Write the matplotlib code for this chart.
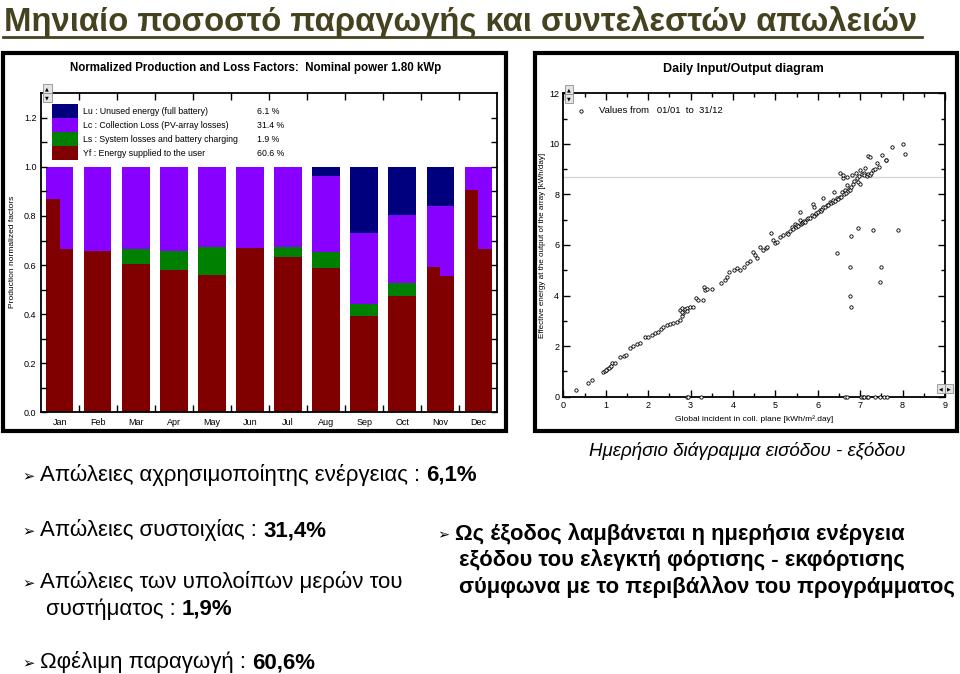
import matplotlib
matplotlib.use('Agg')
import matplotlib.pyplot as plt
from matplotlib import font_manager
from matplotlib.patches import Rectangle
import numpy as np

# ---------------- data ----------------
months = ['Jan', 'Feb', 'Mar', 'Apr', 'May', 'Jun', 'Jul', 'Aug', 'Sep', 'Oct', 'Nov', 'Dec']
yf = [0.665, 0.657, 0.603, 0.578, 0.561, 0.668, 0.634, 0.589, 0.391, 0.475, 0.555, 0.664]
yf_left = [0.868, 0.657, 0.603, 0.578, 0.561, 0.668, 0.634, 0.589, 0.391, 0.475, 0.593, 0.905]
ls = [0.0, 0.002, 0.062, 0.081, 0.112, 0.002, 0.038, 0.065, 0.052, 0.053, 0.0, 0.0]
lc = [0.335, 0.341, 0.335, 0.341, 0.327, 0.330, 0.328, 0.309, 0.287, 0.277, 0.285, 0.336]
lu = [0.0, 0.0, 0.0, 0.0, 0.0, 0.0, 0.0, 0.037, 0.270, 0.195, 0.160, 0.0]
legend_labels = ['Lu : Unused energy (full battery)', 'Lc : Collection Loss (PV-array losses)',
                 'Ls : System losses and battery charging', 'Yf : Energy supplied to the user']
legend_pcts = ['6.1 %', '31.4 %', '1.9 %', '60.6 %']

io_x = [0.31, 0.59, 0.68, 0.93, 0.98, 1.04, 1.10, 1.16, 1.22, 1.00, 1.07, 1.13,
        1.34, 1.42, 1.47, 1.57, 1.65, 1.73, 1.81, 1.93, 2.00, 2.08, 2.16, 2.24,
        2.30, 2.36, 2.44, 2.52, 2.59, 2.67, 2.75, 2.79, 2.83, 2.75, 2.81, 2.87,
        2.92, 2.99, 3.05, 2.79, 2.91, 3.14, 3.18, 3.29, 3.32, 3.34, 3.38, 3.50,
        3.73, 3.81, 3.85, 3.91, 4.02, 4.09, 4.17, 4.25, 4.33, 4.40, 4.48, 4.53,
        4.56, 4.64, 4.72, 4.78, 4.81, 4.89, 4.94, 4.99, 5.03, 5.11, 5.19, 5.27,
        5.30, 5.35, 5.39, 5.42, 5.46, 5.48, 5.50, 5.53, 5.57, 5.58, 5.60, 5.62,
        5.65, 5.68, 5.70, 5.75, 5.78, 5.82, 5.86, 5.88, 5.90, 5.91, 5.95, 5.97,
        6.00, 6.05, 6.08, 6.10, 6.13, 6.13, 6.18, 6.21, 6.25, 6.29, 6.32, 6.35,
        6.37, 6.38, 6.40, 6.45, 6.48, 6.52, 6.52, 6.55, 6.56, 6.60, 6.59, 6.62,
        6.64, 6.66, 6.68, 6.70, 6.72, 6.74, 6.76, 6.78, 6.80, 6.82, 6.86, 6.90,
        6.92, 6.96, 6.98, 7.00, 7.00, 7.05, 7.08, 7.10, 7.12, 7.16, 7.18, 7.19,
        7.23, 7.22, 7.26, 7.31, 7.34, 7.39, 7.44, 7.51, 7.60, 7.61, 7.76, 8.00,
        8.05,
        6.45, 6.75, 6.77, 6.79, 6.79, 6.96, 7.31, 7.50, 7.47, 7.90,
        2.91, 2.95, 3.25, 6.64, 6.68, 7.02, 7.06, 7.10, 7.15, 7.19, 7.35, 7.47,
        7.55, 7.63]
io_y = [0.26, 0.55, 0.66, 0.98, 1.03, 1.08, 1.16, 1.32, 1.35, 1.05, 1.12, 1.20,
        1.56, 1.61, 1.65, 1.91, 2.02, 2.08, 2.14, 2.35, 2.37, 2.44, 2.50, 2.57,
        2.66, 2.77, 2.82, 2.87, 2.93, 2.97, 3.03, 3.19, 3.30, 3.43, 3.49, 3.45,
        3.49, 3.53, 3.56, 3.36, 3.39, 3.89, 3.82, 3.82, 4.32, 4.22, 4.25, 4.25,
        4.51, 4.62, 4.75, 4.95, 5.01, 5.08, 5.01, 5.14, 5.27, 5.38, 5.74, 5.60,
        5.47, 5.93, 5.80, 5.87, 5.93, 6.49, 6.20, 6.07, 6.13, 6.33, 6.40, 6.49,
        6.45, 6.55, 6.73, 6.62, 6.83, 6.70, 6.79, 6.76, 6.99, 7.32, 6.85, 6.86,
        6.90, 6.95, 6.92, 7.02, 7.06, 7.08, 7.19, 7.62, 7.15, 7.52, 7.22, 7.25,
        7.30, 7.38, 7.36, 7.42, 7.49, 7.85, 7.50, 7.58, 7.58, 7.71, 7.66, 7.70,
        7.78, 8.11, 7.75, 7.85, 7.82, 7.91, 8.85, 7.90, 8.11, 8.64, 8.77, 8.00,
        8.18, 8.05, 8.37, 8.70, 8.12, 8.20, 8.18, 8.30, 8.77, 8.40, 8.55, 8.84,
        8.65, 8.50, 8.72, 8.41, 8.97, 8.80, 8.84, 8.75, 9.03, 8.73, 8.80, 9.52,
        8.77, 9.47, 8.85, 8.97, 9.00, 9.23, 9.10, 9.56, 9.35, 9.36, 9.89, 10.01,
        9.60,
        5.70, 5.14, 4.00, 3.54, 6.35, 6.67, 6.60, 5.14, 4.53, 6.60,
        0.0, 0.0, 0.0, 0.0, 0.0, 0.0, 0.0, 0.0, 0.0, 0.0, 0.0, 0.0,
        0.0, 0.0]

# ---------------- fonts / colours ----------------
names = {f.name for f in font_manager.fontManager.ttflist}
NARROW = 'Liberation Sans Narrow' if 'Liberation Sans Narrow' in names else 'Liberation Sans'
SANS = 'Liberation Sans'
NAVY, VIOLET, GREEN, RED = '#00007f', '#8800ff', '#008000', '#800000'
TITLE_C = '#45421f'

W, H = 960, 674
fig = plt.figure(figsize=(9.6, 6.74), dpi=100)
r = fig.canvas.get_renderer()


def fx(px):
    return px / W


def fy(py):
    return 1 - py / H


def frame(x0, y0, x1, y1):
    fig.patches.append(Rectangle((fx(x0), fy(y1)), fx(x1) - fx(x0), fy(y0) - fy(y1),
                                 transform=fig.transFigure, fill=False, ec='black', lw=3,
                                 zorder=5))


def widget(x0, y0, w, h, sym):
    fig.patches.append(Rectangle((fx(x0), fy(y0 + h)), w / W, h / H, transform=fig.transFigure,
                                 fc='#e4e4e4', ec='#909090', lw=0.6, zorder=6))
    fig.text(fx(x0 + w / 2), fy(y0 + h / 2), sym, fontsize=3.5, family='DejaVu Sans',
             ha='center', va='center', zorder=7)


# ---------------- title ----------------
t = fig.text(fx(4), fy(31), 'Μηνιαίο ποσοστό παραγωγής και συντελεστών απωλειών',
             family=[NARROW, 'DejaVu Sans'], fontweight='bold', fontsize=24,
             color=TITLE_C, va='baseline', ha='left')
wt = t.get_window_extent(r).width
t.set_fontsize(24 * 918 / wt)
fig.add_artist(plt.Line2D([fx(3), fx(922)], [fy(37), fy(37)], color=TITLE_C, lw=2,
                          transform=fig.transFigure))

# ---------------- left panel ----------------
frame(3, 53, 506, 431)
fig.text(fx(256), fy(71), 'Normalized Production and Loss Factors:  Nominal power 1.80 kWp',
         family=NARROW, fontweight='bold', fontsize=8.3, ha='center', va='baseline')
axL = fig.add_axes([fx(40.7), fy(412.3), (497.3 - 40.7) / W, 319 / H])
x = np.arange(len(months))
bw = 0.72
yf_a = np.array(yf)
ls_a = np.array(ls)
lc_a = np.array(lc)
lu_a = np.array(lu)
axL.bar(x, yf_a, bw, color=RED, lw=0)
axL.bar(x, ls_a, bw, bottom=yf_a, color=GREEN, lw=0)
axL.bar(x, lc_a, bw, bottom=yf_a + ls_a, color=VIOLET, lw=0)
axL.bar(x, lu_a, bw, bottom=yf_a + ls_a + lc_a, color=NAVY, lw=0)
axL.bar(x - bw / 4, yf_left, bw / 2, color=RED, lw=0)
axL.set_xlim(-0.5, 11.5)
axL.set_ylim(0, 1.3)
axL.set_xticks(x, months)
axL.set_xticks(np.arange(0.5, 11, 1), minor=True)
axL.set_yticks(np.arange(0, 1.21, 0.2), [f'{v:.1f}' for v in np.arange(0, 1.21, 0.2)])
axL.set_yticks(np.arange(0, 1.3, 0.1), minor=True)
axL.tick_params(axis='x', which='major', length=0, pad=4, labelsize=6.5)
axL.tick_params(axis='x', which='minor', direction='in', top=True, bottom=True, length=5, width=1)
axL.tick_params(axis='y', which='both', direction='in', left=True, right=True, labelsize=6.5,
                length=4, width=1, pad=3)
for lab in axL.get_xticklabels() + axL.get_yticklabels():
    lab.set_family(SANS)
for s in axL.spines.values():
    s.set_linewidth(1.3)
fig.text(fx(13), fy(252), 'Production normalized factors', rotation=90, fontsize=6,
         family=SANS, ha='center', va='center')
widget(43, 84, 8.5, 9, '▲')
widget(43, 93, 8.5, 9, '▼')
# legend
leg_colors = [NAVY, VIOLET, GREEN, RED]
for i, (c, lab, pc) in enumerate(zip(leg_colors, legend_labels, legend_pcts)):
    top = 104 + 14 * i
    axL.add_patch(Rectangle(((52 - 40.7) / 456.3, (412.3 - top - 14) / 319), 25.5 / 456.3,
                            14 / 319, transform=axL.transAxes, color=c, lw=0, zorder=4))
    axL.text((83 - 40.7) / 456.3, (412.3 - top - 7) / 319, lab, transform=axL.transAxes,
             fontsize=6.3, family=SANS, va='center', ha='left')
    axL.text((257 - 40.7) / 456.3, (412.3 - top - 7) / 319, pc, transform=axL.transAxes,
             fontsize=6.3, family=SANS, va='center', ha='left')

# ---------------- right panel ----------------
frame(535, 53, 957, 431)
fig.text(fx(743), fy(72), 'Daily Input/Output diagram', family=NARROW, fontweight='bold',
         fontsize=9, ha='center', va='baseline')
axR = fig.add_axes([fx(563.3), fy(396.7), (945 - 563.3) / W, (396.7 - 93.3) / H])
axR.axhline(8.7, color='#d6d6d6', lw=1, zorder=1)
axR.plot(io_x, io_y, 'o', ms=2.4, mfc='white', mec='black', mew=0.6, zorder=3, clip_on=False)
axR.set_xlim(0, 9)
axR.set_ylim(0, 12)
axR.set_xticks(np.arange(0, 10, 1))
axR.set_xticks(np.arange(0, 9.01, 0.5), minor=True)
axR.set_yticks(np.arange(0, 13, 2))
axR.set_yticks(np.arange(0, 12.1, 1), minor=True)
axR.tick_params(which='both', direction='in', top=True, right=True, labelsize=6.5, width=1)
axR.tick_params(which='major', length=5, pad=3)
axR.tick_params(which='minor', length=3)
for lab in axR.get_xticklabels() + axR.get_yticklabels():
    lab.set_family(SANS)
for s in axR.spines.values():
    s.set_linewidth(1.3)
axR.plot([0.0456], [0.942], 'o', ms=2.4, mfc='white', mec='black', mew=0.6,
         transform=axR.transAxes)
axR.text(0.0935, 0.942, 'Values from   01/01  to  31/12', transform=axR.transAxes,
         fontsize=6.8, family=SANS, va='center')
fig.text(fx(754), fy(419), 'Global incident in coll. plane [kWh/m².day]', fontsize=6,
         family=SANS, ha='center', va='center')
fig.text(fx(543), fy(245), 'Effective energy at the output of the array [kWh/day]',
         rotation=90, fontsize=5.8, family=SANS, ha='center', va='center')
widget(565, 85, 8, 9, '▲')
widget(565, 94, 8, 9, '▼')
widget(937, 384, 8, 9, '◀')
widget(945, 384, 8, 9, '▶')

# ---------------- slide text ----------------


def place_line(x0, base, parts, size, family, style='normal', bullet=True):
    if bullet:
        fig.text(fx(x0), fy(base - 1), '➢', fontsize=size * 0.66, family='DejaVu Sans',
                 va='baseline', ha='left')
        x0 += 18
    xx = x0
    for txt, weight in parts:
        if txt == ' ':
            a = fig.text(0, 0, 'xx', fontsize=size, family=family, fontweight=weight)
            b = fig.text(0, 0, 'x x', fontsize=size, family=family, fontweight=weight)
            sw = b.get_window_extent(r).width - a.get_window_extent(r).width
            a.remove()
            b.remove()
            xx += sw
            continue
        tt = fig.text(fx(xx), fy(base), txt, fontsize=size, family=[family, 'DejaVu Sans'],
                      fontweight=weight, style=style, va='baseline', ha='left')
        xx += tt.get_window_extent(r).width
    return xx


BODY = 16.0
BOLD_R = 15.8
place_line(22, 481, [('Απώλειες αχρησιμοποίητης ενέργειας :', 'normal'), (' ', 'normal'),
                     ('6,1%', 'bold')], BODY, NARROW)
place_line(22, 536, [('Απώλειες συστοιχίας :', 'normal'), (' ', 'normal'),
                     ('31,4%', 'bold')], BODY, NARROW)
place_line(22, 588, [('Απώλειες των υπολοίπων μερών του', 'normal')], BODY, NARROW)
place_line(46, 615, [('συστήματος :', 'normal'), (' ', 'normal'), ('1,9%', 'bold')], BODY,
           NARROW, bullet=False)
place_line(22, 668, [('Ωφέλιμη παραγωγή :', 'normal'), (' ', 'normal'), ('60,6%', 'bold')],
           BODY, NARROW)

fig.text(fx(747), fy(456), 'Ημερήσιο διάγραμμα εισόδου - εξόδου', fontsize=13.5,
         family=[NARROW, 'DejaVu Sans'], style='italic', ha='center', va='baseline')

place_line(437, 540, [('Ως έξοδος λαμβάνεται η ημερήσια ενέργεια', 'bold')], BOLD_R, NARROW)
place_line(459, 566, [('εξόδου του ελεγκτή φόρτισης - εκφόρτισης', 'bold')], BOLD_R, NARROW,
           bullet=False)
place_line(459, 593, [('σύμφωνα με το περιβάλλον του προγράμματος', 'bold')], BOLD_R, NARROW,
           bullet=False)

fig.savefig('out.png', dpi=100)
